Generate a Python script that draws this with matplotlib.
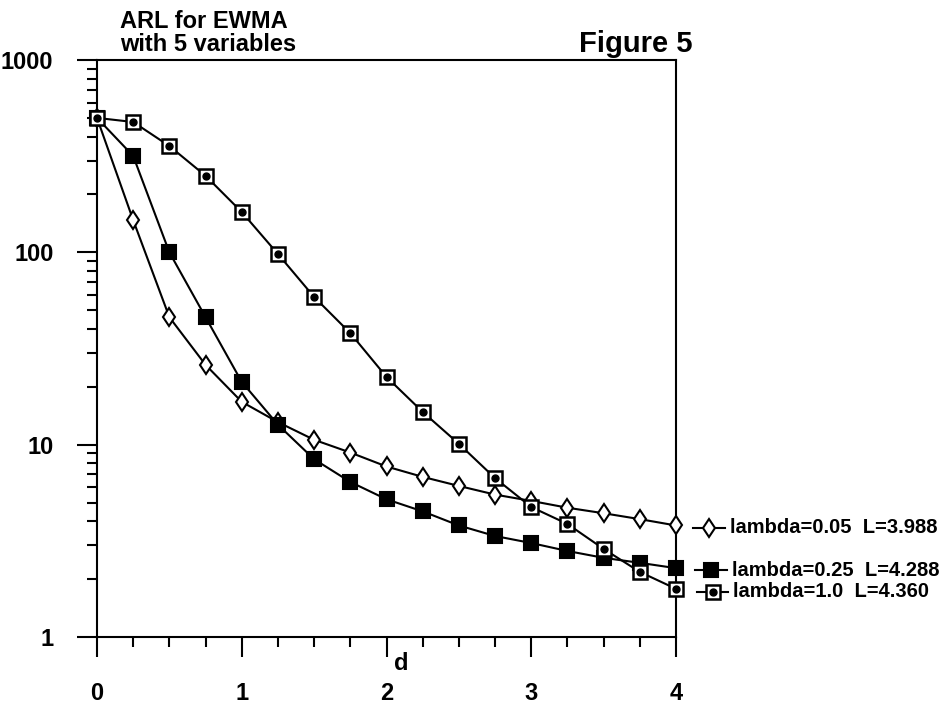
import matplotlib
matplotlib.use('Agg')
import matplotlib.pyplot as plt
from matplotlib import ticker
from matplotlib.transforms import blended_transform_factory

plt.rcParams['font.family'] = ['Liberation Sans', 'DejaVu Sans']
plt.rcParams['font.weight'] = 'bold'

# shift d and ARL values
d = [0, 0.25, 0.5, 0.75, 1, 1.25, 1.5, 1.75, 2, 2.25, 2.5, 2.75, 3, 3.25, 3.5, 3.75, 4]
arl_005 = [500, 147, 46, 26, 16.7, 13.1, 10.6, 9.1, 7.7, 6.8, 6.1, 5.5, 5.1, 4.7, 4.4, 4.1, 3.8]
arl_025 = [500, 317, 100, 46, 21.2, 12.7, 8.4, 6.4, 5.2, 4.5, 3.8, 3.35, 3.08, 2.8, 2.58, 2.43, 2.28]
arl_100 = [500, 476, 357, 250, 162, 98, 58.6, 38, 22.5, 14.8, 10.1, 6.7, 4.74, 3.87, 2.87, 2.18, 1.78]

labels = ['lambda=0.05  L=3.988', 'lambda=0.25  L=4.288', 'lambda=1.0  L=4.360']
y_ticks = [1, 10, 100, 1000]
x_ticks = [0, 1, 2, 3, 4]

W, H = 947, 705
fig = plt.figure(figsize=(W / 100, H / 100), dpi=100)
ax = fig.add_axes([97 / W, 1 - 637 / H, (676 - 97) / W, (637 - 60) / H])

lw = 1.5
diamond = dict(marker='d', ms=9.5, mfc='white', mec='black', mew=1.5)
filled = dict(marker='s', ms=10, mfc='black', mec='black', mew=1.5)
boxed = dict(marker='s', ms=10, mfc='white', mec='black', mew=1.8)
dot = dict(marker='o', ms=5, color='black')

# lambda = 0.05 : open diamonds
ax.plot(d, arl_005, color='black', lw=lw, zorder=3, clip_on=False, **diamond)
# lambda = 0.25 : filled squares
ax.plot(d, arl_025, color='black', lw=lw, zorder=3, clip_on=False, **filled)
# lambda = 1.0 : open squares with a dot
ax.plot(d, arl_100, color='black', lw=lw, zorder=4, clip_on=False, **boxed)
ax.plot(d, arl_100, ls='none', zorder=5, clip_on=False, **dot)

ax.set_yscale('log')
ax.set_xlim(0, 4)
ax.set_ylim(1, 1000)

for s in ax.spines.values():
    s.set_linewidth(lw)

ax.set_xticks(x_ticks)
ax.set_xticklabels([str(v) for v in x_ticks])
ax.xaxis.set_minor_locator(ticker.MultipleLocator(0.25))
ax.yaxis.set_major_locator(ticker.FixedLocator(y_ticks))
ax.yaxis.set_major_formatter(ticker.FixedFormatter([str(v) for v in y_ticks]))
ax.yaxis.set_minor_locator(ticker.LogLocator(base=10, subs=range(2, 10)))
ax.yaxis.set_minor_formatter(ticker.NullFormatter())

ax.tick_params(which='major', direction='out', length=14.4, width=lw)
ax.tick_params(which='minor', direction='out', length=7.2, width=lw)
ax.tick_params(axis='x', which='major', pad=18, labelsize=17)
ax.tick_params(axis='y', which='major', pad=17, labelsize=17)
for lab in ax.get_xticklabels() + ax.get_yticklabels():
    lab.set_fontweight('bold')

# d label just under the axis
ax.text((401 - 97) / (676 - 97), -26 / (637 - 60), 'd', transform=ax.transAxes,
        ha='center', va='center', fontsize=17, fontweight='bold')

# titles
fig.text(120 / W, 1 - 28 / H, 'ARL for EWMA', ha='left', va='baseline',
         fontsize=17, fontweight='bold')
fig.text(120 / W, 1 - 51 / H, 'with 5 variables', ha='left', va='baseline',
         fontsize=17, fontweight='bold')
fig.text(579 / W, 1 - 52 / H, 'Figure 5', ha='left', va='baseline',
         fontsize=21, fontweight='bold')

# labels at the end of each curve
tr = blended_transform_factory(fig.transFigure, ax.transData)
ends = [arl_005[-1] * 0.975, arl_025[-1] * 0.975, arl_100[-1] * 0.965]
styles = [diamond, filled, boxed]
xs = [(693, 725), (695, 727), (697, 728)]
for yv, st, (x0, x1), lab in zip(ends, styles, xs, labels):
    ax.plot([x0 / W, x1 / W], [yv, yv], transform=tr, color='black', lw=lw,
            clip_on=False)
    ax.plot([(x0 + x1) / 2 / W], [yv], transform=tr, clip_on=False, **st)
    if st is boxed:
        ax.plot([(x0 + x1) / 2 / W], [yv], transform=tr, clip_on=False, **dot)
    ax.text((x1 + 5) / W, yv, lab, transform=tr, ha='left', va='center',
            fontsize=14.5, fontweight='bold')

fig.savefig('out.png', dpi=100)
